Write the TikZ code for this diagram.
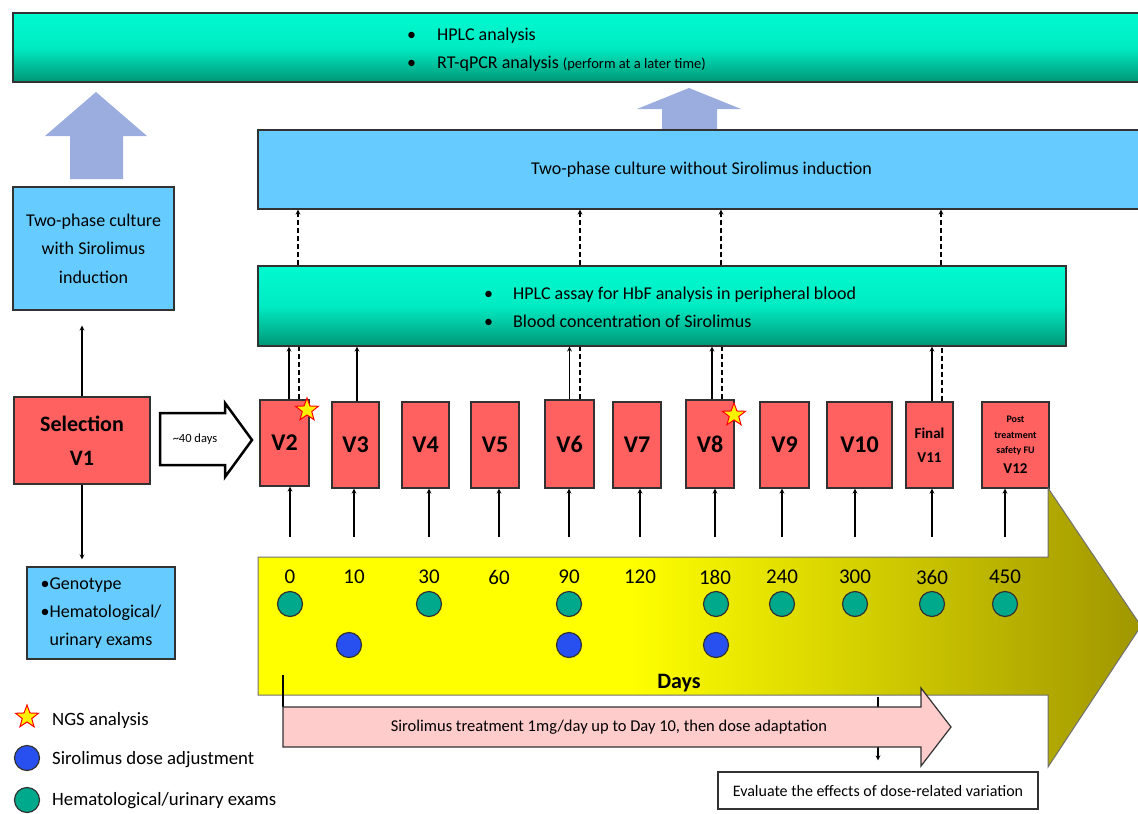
\documentclass[tikz,border=0pt]{standalone}
\usepackage{fontspec}
\setmainfont{Carlito}
\usetikzlibrary{shapes.geometric, arrows}
\definecolor{visitred}{RGB}{255,96,96}
\definecolor{cultblue}{RGB}{102,204,255}
\definecolor{tealtop}{RGB}{0,250,208}
\definecolor{tealbot}{RGB}{0,150,118}
\definecolor{liftblue}{RGB}{155,172,222}
\definecolor{examgreen}{RGB}{0,168,140}
\definecolor{doseblue}{RGB}{40,80,240}
\definecolor{treatpink}{RGB}{255,204,204}
\definecolor{dayolive}{RGB}{160,150,0}
\definecolor{edge}{RGB}{50,50,50}
\pgfdeclarehorizontalshading{dayshade}{100bp}{color(0bp)=(yellow); color(25bp)=(yellow); color(46bp)=(yellow); color(75bp)=(dayolive); color(100bp)=(dayolive)}
\tikzstyle{assay} = [rectangle, draw=edge, line width=1.2pt, top color=tealtop, bottom color=tealbot, middle color=tealtop!85!tealbot, inner sep=0pt]
\tikzstyle{culture} = [rectangle, draw=edge, line width=1.2pt, fill=cultblue, inner sep=0pt, font=\fontsize{18}{21}\selectfont]
\tikzstyle{visit} = [rectangle, draw=edge, line width=1.2pt, fill=visitred, minimum height=86pt, inner sep=0pt, align=center, font=\bfseries\fontsize{24}{26}\selectfont]
\tikzstyle{dayno} = [inner sep=0pt, font=\fontsize{21}{23}\selectfont]
\tikzstyle{exam} = [circle, draw=edge, line width=1.2pt, fill=examgreen, minimum size=25pt, inner sep=0pt]
\tikzstyle{dose} = [circle, draw=edge, line width=1.2pt, fill=doseblue, minimum size=25pt, inner sep=0pt]
\tikzstyle{ngs} = [star, star points=5, star point ratio=2.4, draw=red, line width=1pt, fill=yellow, minimum size=24pt, inner sep=0pt]
\tikzstyle{legendtext} = [anchor=west, inner sep=0pt, font=\fontsize{18.8}{21}\selectfont]
\tikzstyle{arrow} = [line width=1.2pt,->,>=stealth]
\tikzstyle{dashline} = [line width=1.2pt, dash pattern=on 5pt off 3pt]
\tikzstyle{dasharrow} = [line width=1.2pt, dash pattern=on 5pt off 3pt,->,>=stealth]

\begin{document}
\begin{tikzpicture}[x=1pt, y=-1pt]
      \useasboundingbox (0,0) rectangle (1138,814);

      \node (hplcall) [assay, minimum width=1132pt, minimum height=69pt] at (579,47.5) {};
      \node (hplcalltxt) [anchor=west, align=left, inner sep=0pt, font=\fontsize{18}{28}\selectfont] at (407,50) {\textbullet\hspace{21pt}HPLC analysis\\\textbullet\hspace{21pt}RT-qPCR analysis {\fontsize{14.5}{16}\selectfont (perform at a later time)}};

      \fill[liftblue] (70,179) -- (70,136) -- (45,136) -- (96,92) -- (147,136) -- (123,136) -- (123,179) -- cycle;
      \fill[liftblue] (662,129) -- (662,109) -- (637,109) -- (689,88) -- (741,109) -- (717,109) -- (717,129) -- cycle;

      \node (cultall) [culture, minimum width=887pt, minimum height=79pt] at (701.5,169.5) {Two-phase culture without Sirolimus induction};
      \node (cultsel) [culture, minimum width=161pt, minimum height=123pt, align=center, font=\fontsize{18}{28.5}\selectfont] at (93.5,248.5) {Two-phase culture\\with Sirolimus\\induction};

      \node (hplcblood) [assay, minimum width=808pt, minimum height=80pt] at (662,306) {};
      \node (hplcbloodtxt) [anchor=west, align=left, inner sep=0pt, font=\fontsize{18}{28}\selectfont] at (484,307) {\textbullet\hspace{20pt}HPLC assay for HbF analysis in peripheral blood\\\textbullet\hspace{20pt}Blood concentration of Sirolimus};

      \node (v1) [visit, minimum width=136pt, minimum height=87pt, font=\bfseries\fontsize{22}{34}\selectfont] at (82,440.5) {Selection\\V1};
      \node (v2) [visit, minimum width=49pt] at (284.5,443) {V2};
      \node (v3) [visit, minimum width=47pt] at (355.5,445) {V3};
      \node (v4) [visit, minimum width=47pt] at (425.5,445) {V4};
      \node (v5) [visit, minimum width=48pt] at (495,445) {V5};
      \node (v6) [visit, minimum width=49pt, minimum height=88pt] at (569.5,444) {V6};
      \node (v7) [visit, minimum width=48pt] at (637,445) {V7};
      \node (v8) [visit, minimum width=48pt, minimum height=88pt] at (710,444) {V8};
      \node (v9) [visit, minimum width=49pt] at (784.5,445) {V9};
      \node (v10) [visit, minimum width=65pt] at (859.5,445) {V10};
      \node (v11) [visit, minimum width=47pt, font=\bfseries\fontsize{15}{24}\selectfont] at (929.5,445) {Final\\V11};
      \node (v12) [visit, minimum width=67pt, font=\bfseries\fontsize{10}{15.5}\selectfont] at (1015.5,445) {Post\\treatment\\safety FU\\[4pt]{\fontsize{15}{17}\selectfont V12}};

      \node (ngs2) [ngs] at (307,410) {};
      \node (ngs8) [ngs] at (734,415) {};

      \draw[line width=2.5pt, fill=white] (160,413) -- (225,413) -- (225,403) -- (252,440) -- (225,477) -- (225,465) -- (160,465) -- cycle;
      \node (gap) [inner sep=0pt, font=\fontsize{12.5}{14}\selectfont] at (195,439) {\textasciitilde40 days};

      \node (geno) [culture, minimum width=148pt, minimum height=92pt, align=left, font=\fontsize{18}{28}\selectfont] at (101,613) {\textbullet Genotype\\\textbullet Hematological/\\\phantom{\textbullet}urinary exams};

      \draw[arrow] (v1.north) -- ([yshift=-15pt]v1.north |- cultsel.south);
      \draw[arrow] (v1.south) -- ([yshift=7pt]v1.south |- geno.north);

      \draw[arrow] ([xshift=4.5pt]v2.north) -- ([xshift=4.5pt]v2.north |- hplcblood.south);
      \draw[arrow] ([xshift=1.5pt]v3.north) -- ([xshift=1.5pt]v3.north |- hplcblood.south);
      \draw[arrow] (v6.north) -- (v6.north |- hplcblood.south);
      \draw[arrow] ([xshift=2pt]v8.north) -- ([xshift=2pt]v8.north |- hplcblood.south);
      \draw[arrow] ([xshift=2.5pt]v11.north) -- ([xshift=2.5pt]v11.north |- hplcblood.south);
      \draw[dashline] ([xshift=14.5pt]v2.north) -- ([xshift=14.5pt]v2.north |- hplcblood.south);
      \draw[dashline] ([xshift=10.5pt]v6.north) -- ([xshift=10.5pt]v6.north |- hplcblood.south);
      \draw[dashline] ([xshift=12pt]v8.north) -- ([xshift=12pt]v8.north |- hplcblood.south);
      \draw[dashline] ([xshift=12.5pt]v11.north) -- ([xshift=12.5pt]v11.north |- hplcblood.south);
      \draw[dasharrow] ([xshift=13.5pt]v2.north |- hplcblood.north) -- ([xshift=13.5pt]v2.north |- cultall.south);
      \draw[dasharrow] ([xshift=10.5pt]v6.north |- hplcblood.north) -- ([xshift=10.5pt]v6.north |- cultall.south);
      \draw[dasharrow] ([xshift=11pt]v8.north |- hplcblood.north) -- ([xshift=11pt]v8.north |- cultall.south);
      \draw[dasharrow] ([xshift=11.5pt]v11.north |- hplcblood.north) -- ([xshift=11.5pt]v11.north |- cultall.south);

      \shade[shading=dayshade, draw=edge!70, line width=1pt] (258,557) -- (1048,557) -- (1048,488) -- (1141,626) -- (1048,767) -- (1048,695) -- (258,695) -- cycle;

      \node (d0) [dayno] at (290,577) {0};
      \node (d10) [dayno] at (354,577) {10};
      \node (d30) [dayno] at (429,577) {30};
      \node (d60) [dayno] at (499,577) {60};
      \node (d90) [dayno] at (569,577) {90};
      \node (d120) [dayno] at (640,577) {120};
      \node (d180) [dayno] at (715,577) {180};
      \node (d240) [dayno] at (782,577) {240};
      \node (d300) [dayno] at (855,577) {300};
      \node (d360) [dayno] at (932,577) {360};
      \node (d450) [dayno] at (1005,577) {450};
      \node (days) [inner sep=0pt, font=\bfseries\fontsize{22}{24}\selectfont] at (679,683) {Days};

      \node (e0) [exam] at (290,604) {};
      \node (e30) [exam] at (429,604) {};
      \node (e90) [exam] at (569,604) {};
      \node (e180) [exam] at (716,604) {};
      \node (e240) [exam] at (782,604) {};
      \node (e300) [exam] at (855,604) {};
      \node (e360) [exam] at (932,604) {};
      \node (e450) [exam] at (1005,604) {};
      \node (a10) [dose] at (349,645) {};
      \node (a90) [dose] at (569,645) {};
      \node (a180) [dose] at (716,645) {};

      \coordinate (base) at (0,537);
      \draw[arrow] (d0 |- base) -- (d0 |- v2.south);
      \draw[arrow] (d10 |- base) -- (d10 |- v3.south);
      \draw[arrow] (d30 |- base) -- (d30 |- v4.south);
      \draw[arrow] (d60 |- base) -- (d60 |- v5.south);
      \draw[arrow] (d90 |- base) -- (d90 |- v6.south);
      \draw[arrow] (d120 |- base) -- (d120 |- v7.south);
      \draw[arrow] (d180 |- base) -- (d180 |- v8.south);
      \draw[arrow] (d240 |- base) -- (d240 |- v9.south);
      \draw[arrow] (d300 |- base) -- (d300 |- v10.south);
      \draw[arrow] (d360 |- base) -- (d360 |- v11.south);
      \draw[arrow] (d450 |- base) -- (d450 |- v12.south);

      \coordinate (treatfrom) at (283,675);
      \coordinate (treatstart) at (283,707);
      \coordinate (evalfrom) at (878,697);
      \node (eval) [draw=edge, line width=1.2pt, fill=white, minimum width=320pt, minimum height=37pt, inner sep=0pt, font=\fontsize{16}{18}\selectfont] at (878,790.5) {Evaluate the effects of dose-related variation};
      \draw[arrow] (evalfrom) -- ([yshift=11pt]eval.north);
      \draw[line width=1.2pt] (treatfrom) -- (treatstart);
      \draw[draw=edge, line width=1.2pt, fill=treatpink] (treatstart) -- (921,707) -- (921,688) -- (951,727) -- (921,766) -- (921,747) -- (283,747) -- cycle;
      \node (treat) [inner sep=0pt, font=\fontsize{16.5}{18}\selectfont] at (609,727) {Sirolimus treatment 1mg/day up to Day 10, then dose adaptation};

      \node (keyngs) [ngs] at (27,717) {};
      \node (keyngstxt) [legendtext] at (52,720) {NGS analysis};
      \node (keydose) [dose] at (27,758) {};
      \node (keydosetxt) [legendtext] at (52,760) {Sirolimus dose adjustment};
      \node (keyexam) [exam] at (27,800) {};
      \node (keyexamtxt) [legendtext] at (52,801) {Hematological/urinary exams};
\end{tikzpicture}
\end{document}
